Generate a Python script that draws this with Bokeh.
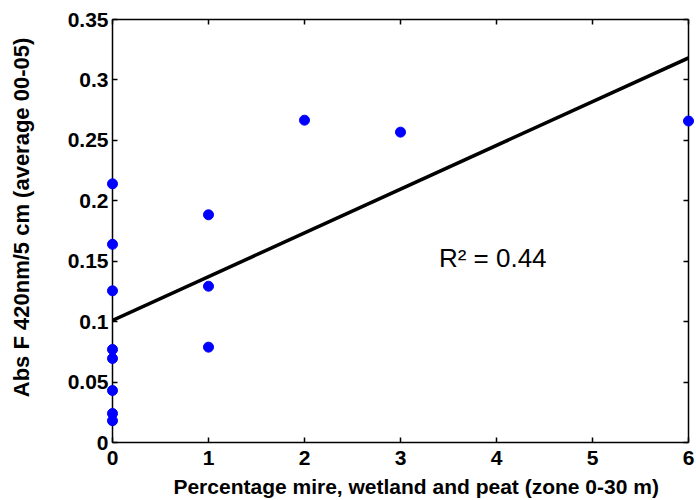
import math
import numpy as np
from bokeh.plotting import figure
from bokeh.models import LinearAxis, FixedTicker, Label, Range1d
from bokeh.core.properties import value
from bokeh.embed import file_html
from bokeh.resources import INLINE

# ---- data ----
x_vals = [0, 0, 0, 0, 0, 0, 0, 0, 1, 1, 1, 2, 3, 6]
y_vals = [0.214, 0.164, 0.1255, 0.077, 0.0695, 0.043, 0.024, 0.018,
          0.1884, 0.1293, 0.0789, 0.2667, 0.2568, 0.266]
x_ticks = [0, 1, 2, 3, 4, 5, 6]
x_tick_labels = ["0", "1", "2", "3", "4", "5", "6"]
y_ticks = [0, 0.05, 0.1, 0.15, 0.2, 0.25, 0.3, 0.35]
y_tick_labels = ["0", "0.05", "0.1", "0.15", "0.2", "0.25", "0.3", "0.35"]
r2_text = "R\u00b2 = 0.44"
x_label = "Percentage mire, wetland and peat (zone 0-30 m)"
y_label = "Abs F 420nm/5 cm (average 00-05)"

# least-squares regression line through the data
slope, intercept = np.polyfit(x_vals, y_vals, 1)
x_fit = np.array([min(x_vals), max(x_vals)], dtype=float)
y_fit = intercept + slope * x_fit

FONT = "Liberation Sans"

p = figure(width=696, height=500, output_backend="svg", toolbar_location=None,
           x_range=Range1d(0, 6), y_range=Range1d(0, 0.35),
           min_border_left=112, min_border_right=8, min_border_top=19,
           min_border_bottom=58)
p.xgrid.visible = False
p.ygrid.visible = False
p.outline_line_color = None
p.background_fill_color = "white"
p.border_fill_color = "white"

xt = FixedTicker(ticks=x_ticks)
yt = FixedTicker(ticks=y_ticks)

def style(ax):
    ax.major_tick_in = 5
    ax.major_tick_out = 0
    ax.minor_tick_line_color = None
    ax.axis_line_width = 1.5
    ax.axis_line_color = "black"
    ax.major_tick_line_width = 1.5
    ax.major_tick_line_color = "black"
    ax.major_label_text_font = FONT
    ax.major_label_text_font_style = "bold"
    ax.major_label_text_font_size = "21px"
    ax.major_label_text_color = "black"

xa = p.xaxis[0]
ya = p.yaxis[0]
style(xa)
style(ya)
xa.ticker = xt
ya.ticker = yt
xa.major_label_overrides = {t: l for t, l in zip(x_ticks, x_tick_labels)}
ya.major_label_overrides = {t: l for t, l in zip(y_ticks, y_tick_labels)}
xa.major_label_standoff = 8
ya.major_label_standoff = 4

for loc, tk in (("right", yt), ("above", xt)):
    ax = LinearAxis(ticker=tk)
    style(ax)
    ax.major_label_text_font_size = "0px"
    ax.major_label_standoff = 0
    ax.major_label_text_color = None
    p.add_layout(ax, loc)

# axis titles drawn as unclipped text glyphs just outside the frame
tx = p.text(x=[3.163], y=[-0.0364], text=[x_label], text_font=value(FONT),
            text_font_style="bold", text_font_size="21px", text_color="black",
            text_align="center", text_baseline="alphabetic")
tx.level = "overlay"
ty = p.text(x=[-0.946], y=[0.1862], text=[y_label], angle=math.pi / 2,
            text_font=value(FONT), text_font_style="bold",
            text_font_size="22px", text_color="black", text_align="center",
            text_baseline="alphabetic")
ty.level = "overlay"

p.line(x_fit, y_fit, line_width=3.5, line_color="black")
r = p.scatter(x_vals, y_vals, size=10, fill_color="blue", line_color="blue")
r.level = "overlay"

p.add_layout(Label(x=3.40, y=0.153, text=r2_text, text_font=FONT,
                   text_font_size="26px", text_color="black",
                   text_baseline="alphabetic"))

open("out.html", "w").write(file_html(p, INLINE))
